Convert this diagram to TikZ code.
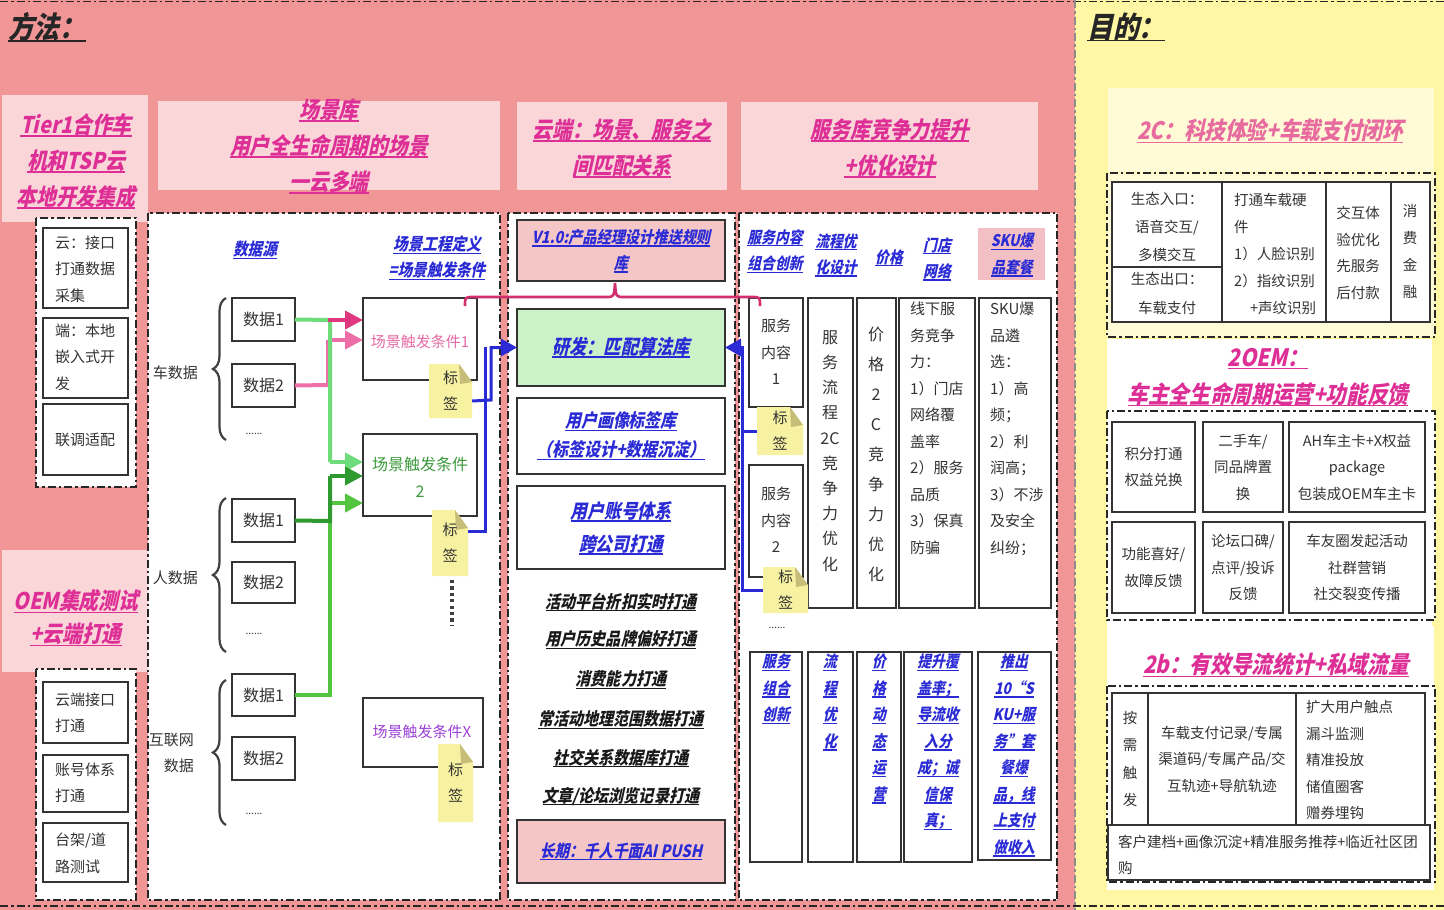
\documentclass[tikz,border=0pt]{standalone}
\usepackage{fontspec}
\setmainfont{Noto Sans CJK SC}
\newfontfamily\hfam[FakeSlant=0.22,FakeStretch=0.86,BoldFeatures={FakeSlant=0.22,FakeStretch=0.86}]{Noto Sans CJK SC}
\newcommand\hf{\hfam\bfseries}
\usetikzlibrary{arrows.meta,decorations.pathreplacing,calc}
\definecolor{bgpink}{HTML}{F19696}
\definecolor{lpink}{HTML}{FAD6D8}
\definecolor{ybg}{HTML}{FFF7A3}
\definecolor{cream}{HTML}{FFFBD6}
\definecolor{mag}{HTML}{DE2F96}
\definecolor{pinkt}{HTML}{E86BA0}
\definecolor{blu}{HTML}{2B2BD6}
\definecolor{tagy}{HTML}{F7F2A2}
\definecolor{tagf}{HTML}{C6BE78}
\definecolor{gbox}{HTML}{CBF1C8}
\definecolor{pbox}{HTML}{F5C6C6}
\definecolor{skub}{HTML}{F2BFC4}
\definecolor{gr1}{HTML}{6EDC7A}
\definecolor{gr2}{HTML}{2E9A30}
\definecolor{gr3}{HTML}{52C43E}
\definecolor{pk1}{HTML}{E0387E}
\definecolor{pk2}{HTML}{EE6FA8}
\definecolor{crim}{HTML}{D02E6C}
\definecolor{sca}{HTML}{E46AA4}
\definecolor{scb}{HTML}{3C9A3C}
\definecolor{scx}{HTML}{9B3FD6}
\definecolor{txt}{HTML}{333333}
\newcommand\hd[1]{\setbox0\hbox{#1}\rlap{\rule[-3.2pt]{\wd0}{1.3pt}}\box0}
\newcommand\rbox[6][]{\node[bx,#1,anchor=north west,minimum width={#5pt-#3pt},minimum height={#6pt-#4pt}] (#2) at (#3,#4) {};}
\newcommand\tagnote[5]{%
  \fill[tagy] (#2,#3) -- ({#4-13},#3) -- (#4,{#3+18}) -- (#4,#5) -- (#2,#5) -- cycle;
  \fill[tagf] ({#4-13},#3) -- (#4,{#3+18}) -- ({#4-12},{#3+20}) -- cycle;
  \node[tagt,minimum width={#4pt-#2pt},minimum height={#5pt-#3pt}] (#1) at ({(#2+#4)/2},{(#3+#5)/2}) {标\\签};}
\tikzset{
 dd/.style={draw=black!85,line width=2.2pt,dash pattern=on 8pt off 3pt on 2.5pt off 3pt},
 bx/.style={draw=black!80,line width=2.6pt,fill=white,inner sep=0pt,outer sep=0pt},
 body/.style={text=txt,font=\fontsize{15}{26.5}\selectfont,inner sep=0pt,align=center},
 bodyl/.style={body,align=left,anchor=west},
 rb/.style={text=txt,font=\fontsize{14.5}{26.5}\selectfont,inner sep=0pt,align=center},
 hdr/.style={text=mag,font=\hf\fontsize{23}{36}\selectfont,align=center,inner sep=0pt},
 rhdr/.style={text=mag,font=\hf\fontsize{24}{37}\selectfont,align=center,inner sep=0pt},
 bh/.style={text=blu,font=\hf\fontsize{17}{26}\selectfont,align=center,inner sep=0pt},
 sh/.style={text=blu,font=\hf\fontsize{16}{26.5}\selectfont,align=center,inner sep=0pt},
 mh/.style={text=black!90,font=\hf\fontsize{17.5}{26}\selectfont,align=center,inner sep=0pt},
 tagt/.style={text=txt,font=\fontsize{15}{26}\selectfont,align=center,inner sep=0pt},
 dots/.style={text=txt,font=\fontsize{10}{12}\selectfont,inner sep=0pt},
 ln/.style={line width=4pt},
 arr/.style={line width=4pt,-{Triangle[length=18pt,width=18pt]}},
 bl/.style={draw=blu,line width=3pt},
 blarr/.style={bl,-{Triangle[length=16pt,width=17pt]}},
 brc/.style={draw=black!75,line width=2.2pt,decorate,decoration={brace,amplitude=13pt}},
}
\begin{document}
\begin{tikzpicture}[x=1pt,y=-1pt]
\useasboundingbox (0,0) rectangle (1444,910);
% backgrounds
\fill[bgpink] (0,0) rectangle (1075,910);
\fill[ybg] (1075,0) rectangle (1444,910);
\draw[dd,line width=1.5pt] (0,1.5) -- (1444,1.5);
\draw[dd] (0,906) -- (1444,906);
\draw[dd,draw=black!45,line width=1.2pt] (1075,0) -- (1075,910);
% titles
\node[font=\hf\fontsize{30}{30}\selectfont,text=black!85,anchor=west,inner sep=0pt] (t1) at (8,27) {\hd{方法：}};
\node[font=\hf\fontsize{30}{30}\selectfont,text=black!85,anchor=west,inner sep=0pt] (t2) at (1087,27) {\hd{目的：}};
% ---------- left column ----------
\fill[lpink] (2,95) rectangle (148,222);
\node[hdr] (h1) at (76,161) {\hd{Tier1合作车}\\\hd{机和TSP云}\\\hd{本地开发集成}};
\draw[dd,fill=white] (36,218) rectangle (136,487);
\rbox{lb1}{43}{228}{128}{308}
\rbox{lb2}{43}{318}{128}{398}
\rbox{lb3}{43}{404}{128}{475}
\node[bodyl] at (55,269) {云：接口\\打通数据\\采集};
\node[bodyl] at (55,357) {端：本地\\嵌入式开\\发};
\node[bodyl] at (55,440) {联调适配};
\fill[lpink] (2,550) rectangle (148,672);
\node[hdr,font=\hf\fontsize{23}{33}\selectfont] (h2) at (76,618) {\hd{OEM集成测试}\\\hd{+云端打通}};
\draw[dd,fill=white] (36,669) rectangle (136,900);
\rbox{lb4}{43}{682}{128}{743}
\rbox{lb5}{43}{755}{128}{812}
\rbox{lb6}{43}{823}{128}{882}
\node[bodyl] at (55,713) {云端接口\\打通};
\node[bodyl] at (55,783) {账号体系\\打通};
\node[bodyl] at (55,853) {台架/道\\路测试};
% ---------- scene library ----------
\fill[lpink] (158,101) rectangle (500,190);
\node[hdr] (h3) at (329,146) {\hd{场景库}\\\hd{用户全生命周期的场景}\\\hd{一云多端}};
\draw[dd,fill=white] (148,213) rectangle (500,900);
\node[bh] (ds) at (255,250) {\hd{数据源}};
\node[bh] (se) at (437,258) {\hd{场景工程定义}\\\hd{=场景触发条件}};
% data boxes
\rbox{ca1}{232}{298}{295}{341}
\rbox{ca2}{232}{364}{295}{407}
\rbox{pa1}{232}{499}{295}{542}
\rbox{pa2}{232}{562}{295}{603}
\rbox{ia1}{232}{674}{295}{716}
\rbox{ia2}{232}{737}{295}{780}
\node[body,font=\fontsize{16}{20}\selectfont] at (ca1) {数据1};
\node[body,font=\fontsize{16}{20}\selectfont] at (ca2) {数据2};
\node[body,font=\fontsize{16}{20}\selectfont] at (pa1) {数据1};
\node[body,font=\fontsize{16}{20}\selectfont] at (pa2) {数据2};
\node[body,font=\fontsize{16}{20}\selectfont] at (ia1) {数据1};
\node[body,font=\fontsize{16}{20}\selectfont] at (ia2) {数据2};
\node[dots] at (254,434) {......};
\node[dots] at (254,634) {......};
\node[dots] at (254,814) {......};
\draw[brc] (226,440) -- (226,298);
\draw[brc] (226,652) -- (226,498);
\draw[brc] (226,825) -- (226,680);
\node[body,anchor=east] (lc) at (198,373) {车数据};
\node[body,anchor=east] (lp) at (198,578) {人数据};
\node[body,align=right,anchor=east] (li) at (194,753) {互联网\\数据};
% scene condition boxes
\rbox{s1}{363}{298}{477}{380}
\rbox{s2}{363}{434}{477}{516}
\rbox{sx}{363}{698}{483}{767}
\node[body,text=sca] at (420,342) {场景触发条件1};
\node[body,text=scb,font=\fontsize{16}{27}\selectfont] at (420,477) {场景触发条件\\2};
\node[body,text=scx] at (422,732) {场景触发条件X};
\tagnote{tg1}{429}{364}{472}{418}
\tagnote{tg2}{432}{510}{468}{576}
\tagnote{tgx}{438}{744}{473}{822}
\draw[line width=3.2pt,dash pattern=on 3.2pt off 3.2pt,draw=black!75] (452,580) -- (452,626);
% connectors: data -> scene conditions
\draw[pk2,ln] (ca2.east) -- (328,385) -- (328,340);
\draw[pk2,arr] (328,340) -- (s1.west |- {(0,340)});
\draw[gr1,ln] (ca1.east) -- (330,320) -- (330,462);
\draw[pk1,arr] (328,320) -- (s1.west |- {(0,320)});
\draw[gr1,arr] (330,462) -- (s2.west |- {(0,462)});
\draw[gr3,ln] (ia1.east) -- (330,695) -- (330,503);
\draw[gr3,arr] (330,503) -- (s2.west |- {(0,503)});
\draw[gr2,ln] (pa1.east) -- (330,521) -- (330,476);
\draw[gr2,arr] (330,476) -- (s2.west |- {(0,476)});
% ---------- cloud matching ----------
\fill[lpink] (517,102) rectangle (727,190);
\node[hdr] (h4) at (622,148) {\hd{云端：场景、服务之}\\\hd{间匹配关系}};
\draw[dd,fill=white] (508,213) rectangle (735,900);
\rbox[fill=pbox]{v1}{517}{220}{725}{281}
\rbox[fill=gbox]{rd}{517}{309}{725}{386}
\rbox{up}{517}{398}{725}{474}
\rbox{ua}{517}{486}{725}{569}
\rbox[fill=pbox]{lt}{517}{820}{725}{883}
\node[bh,font=\hf\fontsize{16.5}{26}\selectfont] at (621,251) {\hd{V1.0:产品经理设计推送规则}\\\hd{库}};
\node[bh,font=\hf\fontsize{20}{26}\selectfont] at (rd) {\hd{研发：匹配算法库}};
\node[bh,font=\hf\fontsize{18.5}{29}\selectfont] at (621,436) {\hd{用户画像标签库}\\\hd{（标签设计+数据沉淀）}};
\node[bh,font=\hf\fontsize{19.5}{33}\selectfont] at (621,528) {\hd{用户账号体系}\\\hd{跨公司打通}};
\node[mh] at (621,602) {\hd{活动平台折扣实时打通}};
\node[mh] at (621,640) {\hd{用户历史品牌偏好打通}};
\node[mh] at (621,680) {\hd{消费能力打通}};
\node[mh] at (621,720) {\hd{常活动地理范围数据打通}};
\node[mh] at (621,758) {\hd{社交关系数据库打通}};
\node[mh] at (621,796) {\hd{文章/论坛浏览记录打通}};
\node[bh,font=\hf\fontsize{17}{26}\selectfont] at (lt) {\hd{长期：千人千面AI PUSH}};
% ---------- service library ----------
\fill[lpink] (741,102) rectangle (1038,190);
\node[hdr] (h5) at (890,148) {\hd{服务库竞争力提升}\\\hd{+优化设计}};
\draw[dd,fill=white] (739,213) rectangle (1057,900);
\fill[skub] (978,228) rectangle (1045,280);
\node[sh] at (775,251) {\hd{服务内容}\\\hd{组合创新}};
\node[sh] at (836,255) {\hd{流程优}\\\hd{化设计}};
\node[sh] at (889,258) {\hd{价格}};
\node[sh] at (937,259) {\hd{门店}\\\hd{网络}};
\node[sh] at (1012,255) {\hd{SKU爆}\\\hd{品套餐}};
\rbox{v1a}{749}{298}{803}{407}
\rbox{v1b}{749}{465}{803}{577}
\rbox{vfl}{808}{298}{853}{608}
\rbox{vpr}{857}{298}{896}{608}
\rbox{vst}{899}{298}{975}{608}
\rbox{vsk}{979}{298}{1051}{608}
\node[body] at (776,352) {服务\\内容\\1};
\node[body] at (776,520) {服务\\内容\\2};
\tagnote{ts1}{757}{407}{803}{455}
\tagnote{ts2}{763}{567}{808}{613}
\node[dots] at (777,628) {......};
\node[body,font=\fontsize{16}{25.2}\selectfont] at (830,451) {服\\务\\流\\程\\2C\\竞\\争\\力\\优\\化};
\node[body,font=\fontsize{16}{30}\selectfont] at (876,454) {价\\格\\2\\C\\竞\\争\\力\\优\\化};
\node[bodyl,anchor=north west] at (910,302) {线下服\\务竞争\\力：\\1）门店\\网络覆\\盖率\\2）服务\\品质\\3）保真\\防骗};
\node[bodyl,anchor=north west] at (990,302) {SKU爆\\品遴\\选：\\1）高\\频；\\2）利\\润高；\\3）不涉\\及安全\\纠纷；};
\rbox{w1}{750}{652}{802}{862}
\rbox{w2}{808}{652}{853}{862}
\rbox{w3}{857}{652}{901}{862}
\rbox{w4}{904}{652}{972}{862}
\rbox{w5}{978}{652}{1051}{860}
\node[sh,anchor=north] at (776,654) {\hd{服务}\\\hd{组合}\\\hd{创新}};
\node[sh,anchor=north] at (830,654) {\hd{流}\\\hd{程}\\\hd{优}\\\hd{化}};
\node[sh,anchor=north] at (879,654) {\hd{价}\\\hd{格}\\\hd{动}\\\hd{态}\\\hd{运}\\\hd{营}};
\node[sh,anchor=north] at (938,654) {\hd{提升覆}\\\hd{盖率；}\\\hd{导流收}\\\hd{入分}\\\hd{成；诚}\\\hd{信保}\\\hd{真；}};
\node[sh,anchor=north] at (1014,654) {\hd{推出}\\\hd{10“S}\\\hd{KU+服}\\\hd{务”套}\\\hd{餐爆}\\\hd{品，线}\\\hd{上支付}\\\hd{做收入}};
% blue connectors
\draw[bl] ($(tg2.east)+(0,-12)$) -- (485,531) -- (485,347);
\draw[blarr] ($(tg1.east)+(0,10)$) -- (491,400) |- (rd.west);
\draw[bl] (ts2.west) -- (742,590) -- (742,360);
\draw[blarr] (ts1.west) -- (742,431) |- (rd.east);
% crimson brace line
\draw[crim,line width=2.6pt] (465,306) .. controls (465,297) .. (473,297) -- (606,297) .. controls (614,297) .. (615,283) .. controls (616,297) .. (624,297) -- (752,297) .. controls (760,297) .. (760,306);
% ---------- right side ----------
\fill[cream] (1108,88) rectangle (1434,172);
\node[rhdr,text=pinkt] (r1) at (1270,131) {\hd{2C：科技体验+车载支付闭环}};
\draw[dd,fill=cream] (1107,173) rectangle (1435,337);
\rbox{c1a}{1112}{182}{1222}{267}
\rbox{c1b}{1112}{267}{1222}{322}
\rbox{c2}{1222}{182}{1326}{322}
\rbox{c3}{1326}{182}{1391}{322}
\rbox{c4}{1391}{182}{1430}{322}
\node[rb,font=\fontsize{14.5}{28}\selectfont] at (1167,227) {生态入口：\\语音交互/\\多模交互};
\node[rb,font=\fontsize{14.5}{29}\selectfont] at (1167,293) {生态出口：\\车载支付};
\node[rb,font=\fontsize{14.5}{27}\selectfont,align=left,anchor=west] at (1234,254) {打通车载硬\\件\\1）人脸识别\\2）指纹识别\\\hspace*{1.1em}+声纹识别};
\node[rb,font=\fontsize{14.5}{26.5}\selectfont] at (1358,253) {交互体\\验优化\\先服务\\后付款};
\node[rb,font=\fontsize{14.5}{27}\selectfont] at (1410,251) {消\\费\\金\\融};
\fill[white] (1107,339) rectangle (1432,626);
\node[rhdr] (r2) at (1268,377) {\hd{2OEM：}\\\hd{车主全生命周期运营+功能反馈}};
\draw[dd,fill=white] (1107,411) rectangle (1435,620);
\rbox{o1}{1112}{422}{1195}{512}
\rbox{o2}{1203}{422}{1283}{512}
\rbox{o3}{1289}{422}{1425}{512}
\rbox{o4}{1112}{522}{1195}{613}
\rbox{o5}{1203}{522}{1283}{613}
\rbox{o6}{1289}{522}{1425}{613}
\node[rb] at (o1) {积分打通\\权益兑换};
\node[rb] at (o2) {二手车/\\同品牌置\\换};
\node[rb] at (o3) {AH车主卡+X权益\\package\\包装成OEM车主卡};
\node[rb] at (o4) {功能喜好/\\故障反馈};
\node[rb] at (o5) {论坛口碑/\\点评/投诉\\反馈};
\node[rb] at (o6) {车友圈发起活动\\社群营销\\社交裂变传播};
\fill[white] (1107,626) rectangle (1434,890);
\node[rhdr] (r3) at (1276,665) {\hd{2b：有效导流统计+私域流量}};
\draw[dd,fill=white] (1107,686) rectangle (1435,882);
\rbox{b1}{1112}{693}{1148}{825}
\rbox{b2}{1148}{693}{1296}{825}
\rbox{b3}{1296}{693}{1425}{825}
\rbox{b4}{1108}{825}{1430}{880}
\node[rb,font=\fontsize{14.5}{27.5}\selectfont] at (b1) {按\\需\\触\\发};
\node[rb] at (b2) {车载支付记录/专属\\渠道码/专属产品/交\\互轨迹+导航轨迹};
\node[rb,align=left,anchor=west] at (1306,760) {扩大用户触点\\漏斗监测\\精准投放\\储值圈客\\赠券埋钩};
\node[rb,align=left,anchor=west] at (1118,855) {客户建档+画像沉淀+精准服务推荐+临近社区团\\购};
\end{tikzpicture}
\end{document}
